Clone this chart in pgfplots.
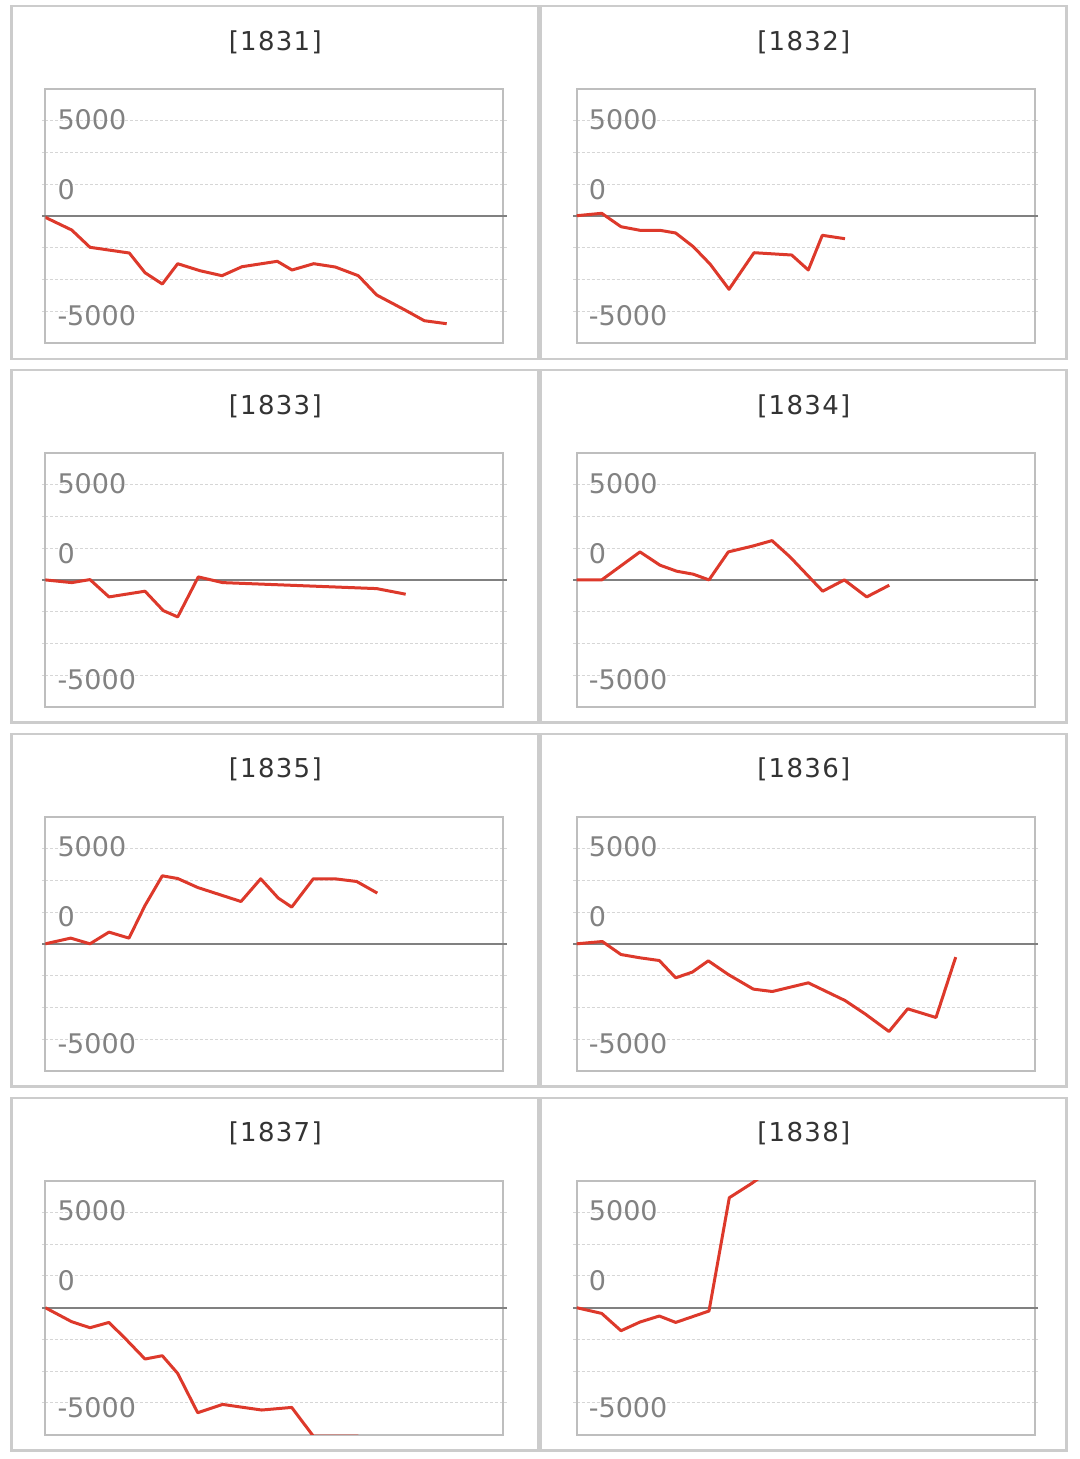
\documentclass[border=0pt]{standalone}
\usepackage{fontspec}
\setmainfont{DejaVu Sans}
\usepackage{pgfplots}
\pgfplotsset{compat=1.18}
\usepackage{pgfplotstable}

\definecolor{linered}{RGB}{221,57,43}
\definecolor{boxgray}{RGB}{190,190,190}
\definecolor{gridgray}{RGB}{214,214,214}
\definecolor{zerogray}{RGB}{128,128,128}
\definecolor{labgray}{RGB}{130,130,130}
\definecolor{titlegray}{RGB}{51,51,51}
\definecolor{framegray}{RGB}{204,204,204}

\pgfplotstableread{
x y
0 -70
26.4 -735
44.7 -1643
84 -1943
99.7 -2977
117 -3570
132.4 -2504
154.7 -2872
176.7 -3134
196.7 -2662
232 -2378
246.7 -2835
268.4 -2504
290 -2678
313 -3134
331.4 -4148
359.7 -4935
379 -5497
401.4 -5654
}\dA

\pgfplotstableread{
x y
0 16
25 142
44.3 -562
63.3 -751
83.3 -751
99 -893
116.6 -1612
133.3 -2520
152.3 -3848
177.3 -1927
215 -2048
231.6 -2835
245.6 -1013
268.3 -1192
}\dB

\pgfplotstableread{
x y
0 0
26.4 -142
44.7 16
63.7 -893
99.7 -593
118 -1612
132.4 -1943
153 158
177.4 -142
331.4 -457
360.4 -751
}\dC

\pgfplotstableread{
x y
0 0
25 0
63.3 1470
83.3 772
100 457
116.6 299
132.3 0
151.6 1470
176.6 1785
195.3 2063
213.3 1208
246 -593
267.6 0
290 -893
312.6 -278
}\dD

\pgfplotstableread{
x y
0 0
25.4 299
44.7 0
63.7 614
83.7 299
99.7 2011
117 3570
132.4 3428
152.4 2956
195.7 2221
215.4 3413
233 2399
246.4 1927
268 3413
289.7 3413
311.4 3271
332 2662
}\dE

\pgfplotstableread{
x y
0 0
25.6 121
44.3 -562
63.3 -735
82.6 -877
99 -1785
115.6 -1486
131.6 -893
151.6 -1612
176.6 -2378
195.6 -2504
231.6 -2048
268.3 -2977
288.3 -3675
312.3 -4604
331 -3413
359.3 -3869
379 -698
}\dF

\pgfplotstableread{
x y
0 0
26.4 -735
44.7 -1050
63.7 -772
81.4 -1696
99.7 -2693
117 -2520
132.4 -3449
152.4 -5513
177.4 -5077
216.4 -5371
246.4 -5234
268 -6740
290.7 -6740
313 -6740
}\dG

\pgfplotstableread{
x y
0 0
25 -299
44.3 -1208
63.3 -751
82.6 -436
99 -772
132.3 -173
152.6 5775
175 6526
195.6 7300
}\dH

\pgfplotsset{panel/.style={
  width=458pt, height=254pt, scale only axis,
  xmin=0, xmax=458, ymin=-6667, ymax=6667,
  xtick=\empty,
  ytick={-5000,-3333.3,-1666.7,1666.7,3333.3,5000},
  yticklabels={},
  ymajorgrids,
  grid style={gridgray, dash pattern=on 3pt off 2pt, line width=1pt},
  tick align=outside, major tick length=3.5pt,
  tick style={gridgray, line width=1pt},
  extra y ticks={0}, extra y tick labels={},
  extra y tick style={grid style={zerogray, solid, line width=2pt}, tick style={zerogray, line width=2pt}},
  axis line style={boxgray, line width=2pt},
  anchor=south west,
}}

% #1 box left, #2 zero line y (px from top), #3 title, #4 table, #5 frame left, #6 frame right
\newcommand{\panel}[6]{%
  \pgfmathsetmacro\bb{-(#2+127)}%
  \begin{scope}[x=1pt,y=-1pt]
    \draw[framegray, line width=2.4pt] (#5,{#2-209.8}) rectangle (#6,{#2+142.7});
    \node[titlegray, font=\fontsize{26}{30}\selectfont\addfontfeature{LetterSpace=5}] at ({(#5+#6)/2+0.3},{#2-174}) {#3};
  \end{scope}
  \begin{axis}[panel, at={(#1pt,\bb pt)}]
    \addplot[linered, line width=3pt, line join=round, mark=none] table {#4};
  \end{axis}
  \begin{scope}[x=1pt,y=-1pt, every node/.style={anchor=west, inner sep=0pt, labgray, font=\fontsize{27}{30}\selectfont}]
    \node at ({#1+12},{#2-96.7}) {5000};
    \node at ({#1+12},{#2-26.7}) {0};
    \node at ({#1+12},{#2+100}) {-5000};
  \end{scope}
}

\begin{document}
\begin{tikzpicture}
  \path (0pt,0pt) rectangle (1079pt,-1459pt);
  \panel{45.3}{216}{[1831]}{\dA}{11.5}{538.5}
  \panel{576.7}{216}{[1832]}{\dB}{540.5}{1066.5}
  \panel{45.3}{579.9}{[1833]}{\dC}{11.5}{538.5}
  \panel{576.7}{579.9}{[1834]}{\dD}{540.5}{1066.5}
  \panel{45.3}{943.8}{[1835]}{\dE}{11.5}{538.5}
  \panel{576.7}{943.8}{[1836]}{\dF}{540.5}{1066.5}
  \panel{45.3}{1307.7}{[1837]}{\dG}{11.5}{538.5}
  \panel{576.7}{1307.7}{[1838]}{\dH}{540.5}{1066.5}
\end{tikzpicture}
\end{document}
